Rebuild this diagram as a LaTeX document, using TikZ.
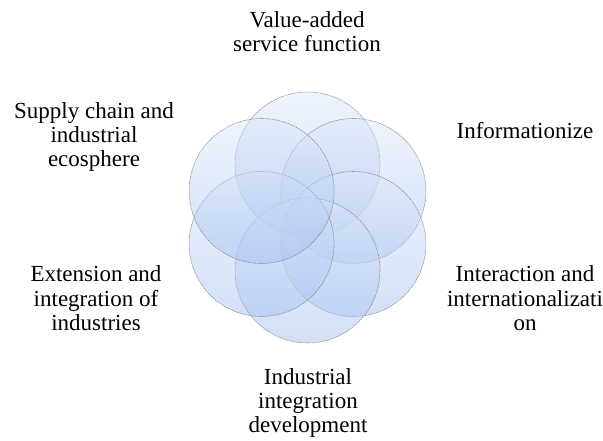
\documentclass[tikz,border=0pt]{standalone}
\usepackage{fontspec}
\setmainfont{Liberation Serif}
\begin{document}
\begin{tikzpicture}[x=1bp,y=-1bp,
  petal/.style={draw=gray, line width=0.6bp, dash pattern=on 1.5bp off 0.8bp,
    top color={rgb,255:red,221;green,231;blue,249},
    bottom color={rgb,255:red,160;green,190;blue,240},
    fill opacity=0.48, draw opacity=0.85},
  label/.style={align=center, inner sep=0pt, anchor=base,
    font=\fontsize{23bp}{24bp}\selectfont}]
  \useasboundingbox (0,0) rectangle (603,441);
  % six overlapping circles around the centre of the flower
  \coordinate (c) at (307.5,217.5);
  \foreach \a/\n in {90/p1,30/p2,-30/p3,-90/p4,-150/p5,150/p6}{
    \path (c) ++(\a:53 and -53) coordinate (\n);
  }
  \foreach \n in {p1,p2,p3,p4,p5,p6}{
    \shade[petal] (\n) circle[radius=72.5];
  }
  % labels (anchored on the baseline of their last line)
  \node[label] (t1) at (307,52) {Value-added\\service function};
  \node[label] (t2) at (525,139) {Informationize};
  \node[label] (t3) at (525,330) {Interaction and\\internationalizati\\on};
  \node[label] (t4) at (308,432) {Industrial\\integration\\development};
  \node[label] (t5) at (96,330) {Extension and\\integration of\\industries};
  \node[label] (t6) at (94,167) {Supply chain and\\industrial\\ecosphere};
\end{tikzpicture}
\end{document}
